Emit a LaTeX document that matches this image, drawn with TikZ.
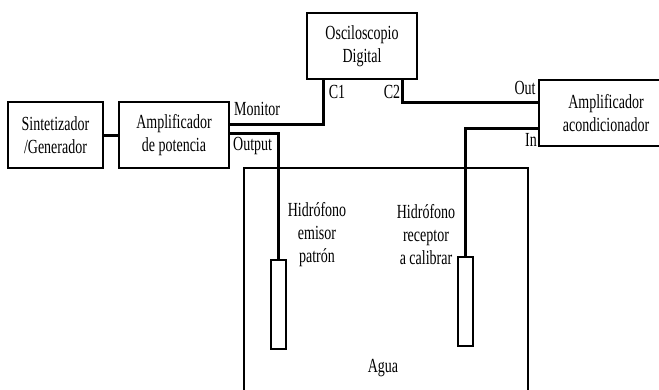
\documentclass[tikz,border=0pt]{standalone}
\usepackage{fontspec}
\setmainfont{Liberation Serif}[FakeStretch=0.7]
\begin{document}
\begin{tikzpicture}[x=1pt,y=-1pt,
  box/.style={draw,line width=1.2pt,inner sep=0pt,align=center,font=\fontsize{20}{23}\selectfont},
  txt/.style={inner sep=0pt,align=center,font=\fontsize{20}{23}\selectfont},
  lbl/.style={inner sep=0pt,font=\fontsize{20}{23}\selectfont},
  wire/.style={line width=3pt},
  thin/.style={line width=1.2pt}]
\useasboundingbox (0,0) rectangle (659,389);
\clip (0,0) rectangle (659,389);
\node[box,minimum width=95pt,minimum height=66pt] (sint) at (55.5,135) {Sintetizador\\/Generador};
\node[box,minimum width=110pt,minimum height=66pt] (amp) at (174,135) {Amplificador\\de potencia};
\node[box,minimum width=110pt,minimum height=66pt] (osc) at (362,46) {Osciloscopio\\Digital};
\node[box,minimum width=134pt,minimum height=66pt] (acond) at (606,113) {Amplificador\\acondicionador};
\node[draw,thin,minimum width=15pt,minimum height=89pt,inner sep=0pt] (hl) at (278.5,304.5) {};
\node[draw,thin,minimum width=15pt,minimum height=89pt,inner sep=0pt] (hr) at (465.5,301.5) {};
\coordinate (tbl) at (244,395);
\coordinate (ttl) at (244,168);
\coordinate (ttr) at (528,168);
\coordinate (tbr) at (528,395);
\draw[thin] (tbl) -- (ttl) -- (ttr) -- (tbr);
\draw[wire] (sint.east) -- (amp.west);
\draw[wire] ([yshift=11pt]amp.east) -| ([xshift=-39pt]osc.south);
\draw[wire] ([yshift=2pt]amp.east) -| (hl.north);
\draw[wire] ([xshift=40pt]osc.south) |- ([yshift=11pt]acond.west);
\draw[wire] ([yshift=-15pt]acond.west) -| (hr.north);
\node[lbl,anchor=west] (mon) at (234,109) {Monitor};
\node[lbl,anchor=west] (out) at (233,146) {Output};
\node[lbl] (c1) at (337,92) {C1};
\node[lbl] (c2) at (392,92) {C2};
\node[lbl] (o) at (525,88) {Out};
\node[lbl] (in) at (531,140) {In};
\node[txt] (tl) at (317,235) {Hidrófono\\emisor\\patrón};
\node[txt] (tr) at (426,235) {Hidrófono\\receptor\\a calibrar};
\node[txt] (agua) at (383,368) {Agua};
\end{tikzpicture}
\end{document}
